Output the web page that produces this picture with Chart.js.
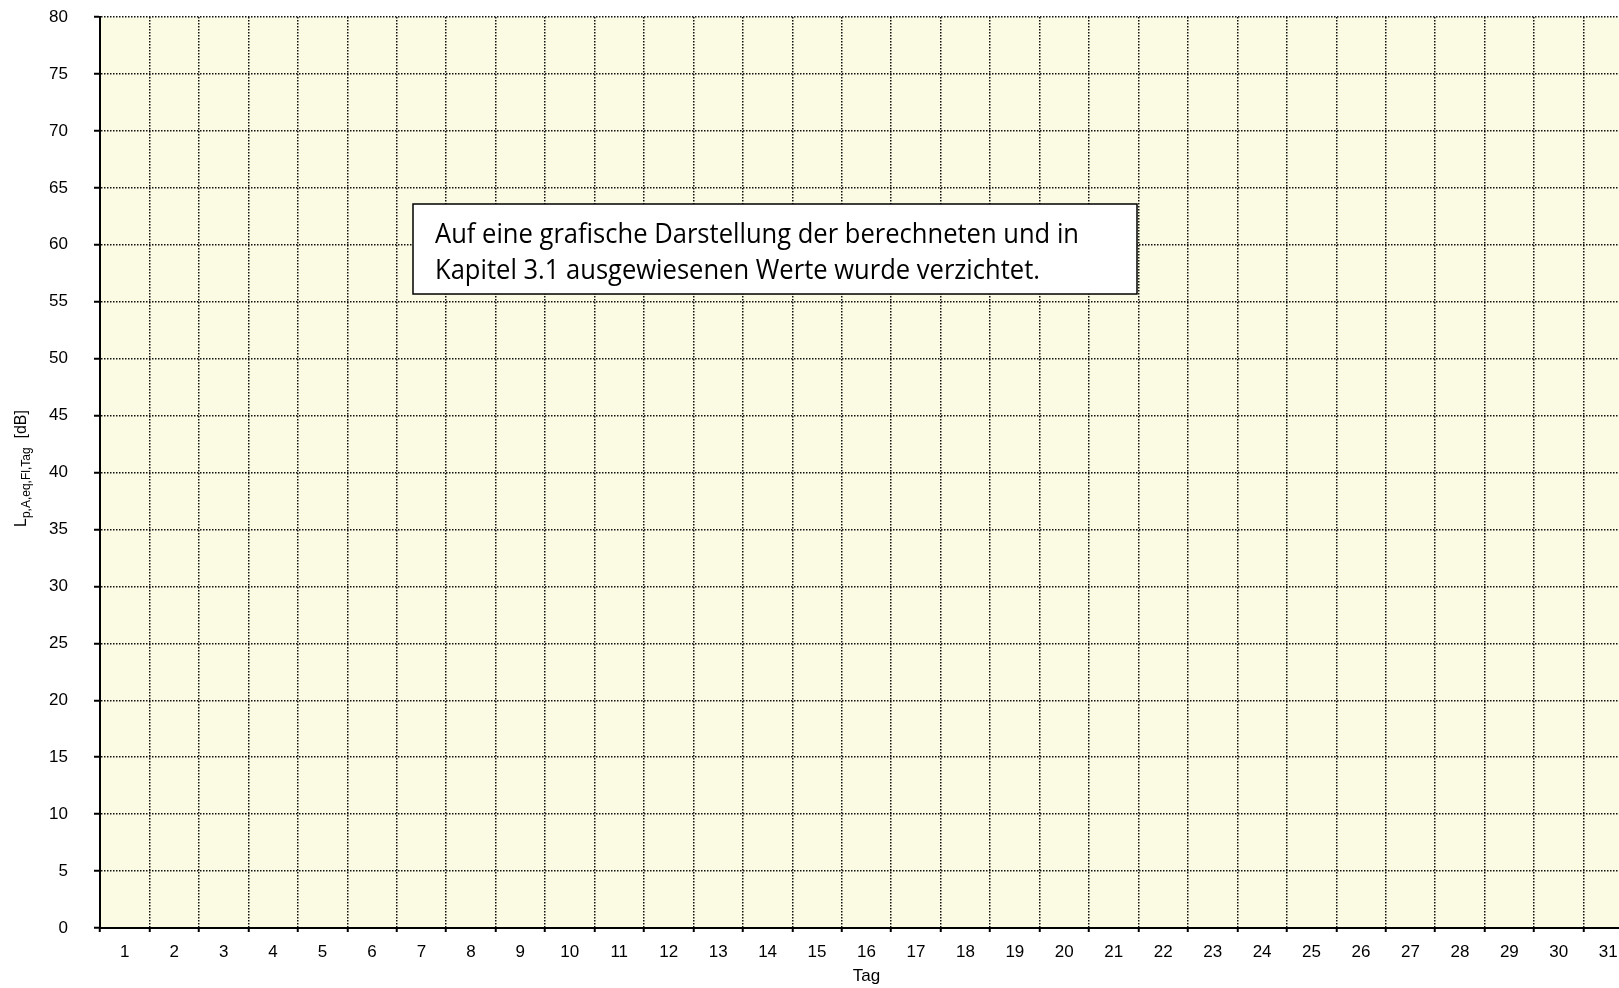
<!DOCTYPE html>
<html>
<head>
<meta charset="utf-8">
<script src="https://cdn.jsdelivr.net/npm/chart.js@4.4.1/dist/chart.umd.min.js"></script>
<style>
  html, body { margin: 0; padding: 0; background: #fff; overflow: hidden; }
  canvas { display: block; }
</style>
</head>
<body>
<canvas id="dayChart" width="1650" height="988"></canvas>
<script>
// days of the month on the x axis
const days = ['1', '2', '3', '4', '5', '6', '7', '8', '9', '10', '11', '12', '13', '14', '15', '16',
              '17', '18', '19', '20', '21', '22', '23', '24', '25', '26', '27', '28', '29', '30', '31'];
// no values are plotted in the original (see note box)
const levels = [];
const yMin = 0;
const yMax = 80;
const yStep = 5;
const xTitle = 'Tag';
const yTitleMain = 'L';
const yTitleSub = 'p,A,eq,Fl,Tag';
const yTitleUnit = '  [dB]';
const noteLines = [
    'Auf eine grafische Darstellung der berechneten und in',
    'Kapitel 3.1 ausgewiesenen Werte wurde verzichtet.'
];

const FONT = 'Arial, "Liberation Sans", sans-serif';

const plotBackground = {
    id: 'plotBackground',
    beforeDraw(chart) {
        const { ctx, chartArea: a } = chart;
        ctx.save();
        ctx.fillStyle = '#fff';
        ctx.fillRect(0, 0, chart.width, chart.height);
        ctx.fillStyle = '#fbfbe3';
        ctx.fillRect(a.left, a.top, a.right - a.left, a.bottom - a.top);
        ctx.restore();
    }
};

// y axis title with subscript
const yTitle = {
    id: 'yTitle',
    afterDraw(chart) {
        const ctx = chart.ctx;
        const a = chart.chartArea;
        ctx.save();
        ctx.fillStyle = '#000';
        ctx.textBaseline = 'alphabetic';
        ctx.textAlign = 'left';
        ctx.font = '16px ' + FONT;
        const w1 = ctx.measureText(yTitleMain).width;
        const w3 = ctx.measureText(yTitleUnit).width;
        ctx.font = '12px ' + FONT;
        const w2 = ctx.measureText(yTitleSub).width;
        const total = w1 + w2 + w3;
        const cy = (a.top + a.bottom) / 2 - 4;
        ctx.translate(26, cy + total / 2);
        ctx.rotate(-Math.PI / 2);
        ctx.font = '16px ' + FONT;
        ctx.fillText(yTitleMain, 0, 0);
        ctx.font = '12px ' + FONT;
        ctx.fillText(yTitleSub, w1, 4);
        ctx.font = '16px ' + FONT;
        ctx.fillText(yTitleUnit, w1 + w2, 0);
        ctx.restore();
    }
};

// note box (text squeezed a little to get Calibri-like proportions)
const noteBox = {
    id: 'noteBox',
    afterDraw(chart) {
        const ctx = chart.ctx;
        ctx.save();
        ctx.fillStyle = '#fff';
        ctx.fillRect(413, 204, 724, 90);
        ctx.strokeStyle = '#000';
        ctx.lineWidth = 1.5;
        ctx.strokeRect(413, 204, 724, 90);
        ctx.font = '26.5px "Open Sans"';
        const sx = 644 / ctx.measureText(noteLines[0]).width;
        ctx.fillStyle = '#000';
        ctx.textBaseline = 'alphabetic';
        [243, 279].forEach((y, i) => {
            ctx.save();
            ctx.translate(435, y);
            ctx.scale(sx, 1);
            ctx.fillText(noteLines[i], 0, 0);
            ctx.restore();
        });
        ctx.restore();
    }
};

new Chart(document.getElementById('dayChart'), {
    type: 'line',
    data: {
        labels: days,
        datasets: [{
            data: levels,
            borderColor: '#000',
            pointRadius: 0
        }]
    },
    options: {
        responsive: false,
        animation: false,
        layout: { padding: { top: 17, right: 17, bottom: 0, left: 0 } },
        plugins: {
            legend: { display: false },
            tooltip: { enabled: false }
        },
        scales: {
            x: {
                type: 'category',
                offset: true,
                afterFit(scale) { scale.height = 60; },
                grid: {
                    offset: true,
                    color: '#111',
                    lineWidth: 1.5,
                    tickLength: 4,
                    tickWidth: 2,
                    tickColor: '#000',
                    tickBorderDash: []
                },
                border: { color: '#000', width: 2, dash: [1.5, 1.5] },
                ticks: {
                    color: '#000',
                    font: { family: FONT, size: 17 },
                    padding: 10,
                    maxRotation: 0,
                    autoSkip: false
                },
                title: {
                    display: true,
                    text: xTitle,
                    color: '#000',
                    font: { family: FONT, size: 17 },
                    padding: { top: 0, bottom: 1 }
                }
            },
            y: {
                min: yMin,
                max: yMax,
                afterFit(scale) {
                    scale.width = 100;
                    scale.paddingTop = 0;
                    scale.paddingBottom = 0;
                },
                grid: {
                    color: '#111',
                    lineWidth: 1.5,
                    tickLength: 6,
                    tickWidth: 2,
                    tickColor: '#000',
                    tickBorderDash: []
                },
                border: { color: '#000', width: 2, dash: [1.5, 1.5] },
                ticks: {
                    stepSize: yStep,
                    color: '#000',
                    font: { family: FONT, size: 17 },
                    padding: 26
                }
            }
        }
    },
    plugins: [plotBackground, yTitle, noteBox]
});
</script>
</body>
</html>
